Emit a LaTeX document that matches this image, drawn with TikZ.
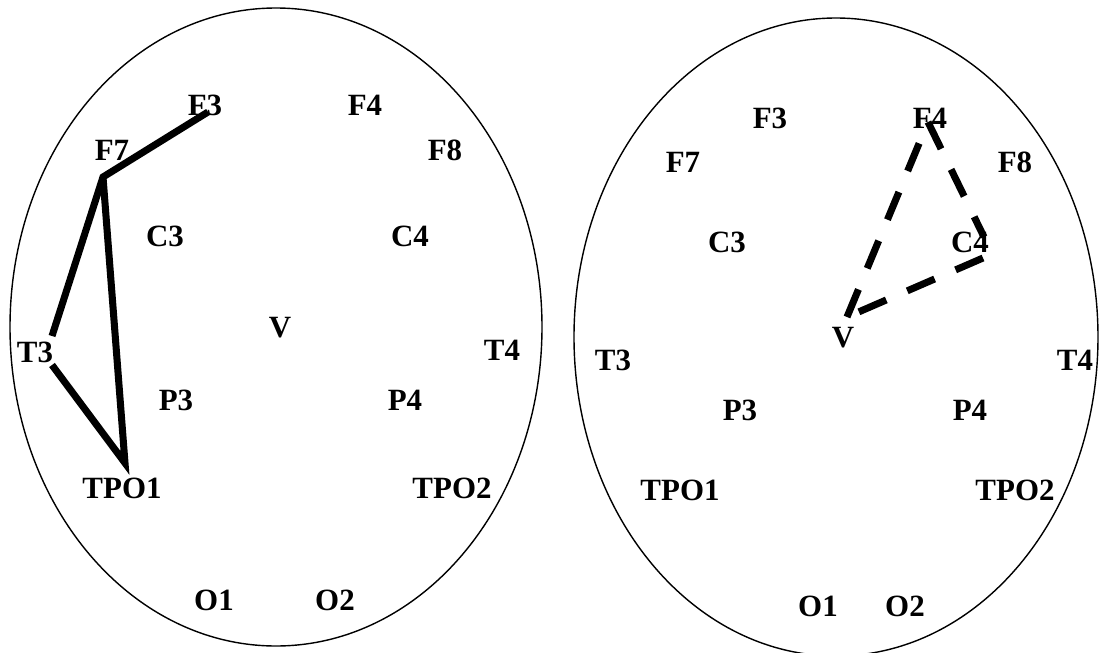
\documentclass[tikz,border=0pt]{standalone}
\usepackage{fontspec}
\setmainfont{Liberation Serif}
\usetikzlibrary{positioning}
\tikzset{
  elab/.style={font=\fontsize{17.6}{20}\selectfont\bfseries, inner sep=1pt},
  head/.style={draw, line width=0.8pt},
  lnk/.style={line width=4pt, line join=miter},
  dlnk/.style={line width=4pt, dash pattern=on 17pt off 13pt},
}
\begin{document}
\begin{tikzpicture}[x=0.02cm, y=-0.02cm]
  \useasboundingbox (0,0) rectangle (1100,653);
  % left head
  \draw[head] (276,327) ellipse [x radius=266, y radius=319];
  \node[elab](lF3) at (205,105){F3};
  \node[elab](lF4) at (365,105){F4};
  \node[elab](lF7) at (112,150){F7};
  \node[elab](lF8) at (445,150){F8};
  \node[elab](lC3) at (165,236){C3};
  \node[elab](lC4) at (410,236){C4};
  \node[elab](lV) at (280,328){V};
  \node[elab](lT3) at (35,352){T3};
  \node[elab](lT4) at (502,350){T4};
  \node[elab](lP3) at (176,400){P3};
  \node[elab](lP4) at (405,400){P4};
  \node[elab](lTPO1) at (122,488){TPO1};
  \node[elab](lTPO2) at (452,488){TPO2};
  \node[elab](lO1) at (214,600){O1};
  \node[elab](lO2) at (335,600){O2};
  \coordinate (lF3p) at (208,112);
  \coordinate (lF7p) at (103,177);
  \coordinate (lT3a) at (52,336);
  \coordinate (lT3b) at (52,365);
  \coordinate (lTPO1p) at (125,463);
  \draw[lnk] (lF3p)--(lF7p)--(lT3a);
  \draw[lnk] (lF7p)--(lTPO1p)--(lT3b);

  % right head
  \draw[head] (836,337) ellipse [x radius=262, y radius=319];
  \node[elab](rF3) at (770,118){F3};
  \node[elab](rF4) at (930,118){F4};
  \node[elab](rF7) at (683,162){F7};
  \node[elab](rF8) at (1015,162){F8};
  \node[elab](rC3) at (727,242){C3};
  \node[elab](rC4) at (970,242){C4};
  \node[elab](rV) at (843,338){V};
  \node[elab](rT3) at (613,360){T3};
  \node[elab](rT4) at (1075,360){T4};
  \node[elab](rP3) at (740,410){P3};
  \node[elab](rP4) at (970,410){P4};
  \node[elab](rTPO1) at (680,490){TPO1};
  \node[elab](rTPO2) at (1015,490){TPO2};
  \node[elab](rO1) at (818,606){O1};
  \node[elab](rO2) at (905,606){O2};
  \coordinate (rF4p) at (928,122);
  \coordinate (rC4a) at (984,237);
  \coordinate (rC4b) at (983,258);
  \coordinate (rVp) at (847,317);
  \draw[dlnk] (rVp)--(rF4p);
  \draw[dlnk] (rF4p)--(rC4a);
  \draw[dlnk] (rC4b)--(rVp);
\end{tikzpicture}
\end{document}
